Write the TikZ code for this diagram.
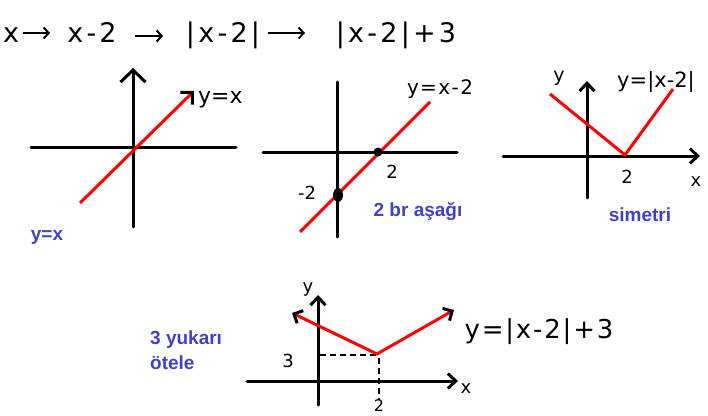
\documentclass[tikz,border=0pt]{standalone}
\usepackage{fontspec}
\setmainfont{DejaVu Sans}
\newfontfamily\handwide[LetterSpace=12]{DejaVu Sans}
\newfontfamily\handmid[LetterSpace=7]{DejaVu Sans}
\newfontfamily\bluefont{Liberation Sans}
\usetikzlibrary{arrows.meta}
\definecolor{myblue}{RGB}{64,64,205}
\definecolor{myred}{RGB}{255,0,0}
\begin{document}
\begin{tikzpicture}[x=1pt,y=-1pt,
  axis/.style={line width=3pt,black,line cap=round},
  graph/.style={line width=3pt,myred},
  dashln/.style={line width=1.2pt,black,dash pattern=on 6pt off 4pt},
  hand/.style={font=\fontsize{#1}{#1}\selectfont,inner sep=0pt},
  handw/.style={font=\handwide\fontsize{#1}{#1}\selectfont,inner sep=0pt},
  handm/.style={font=\handmid\fontsize{#1}{#1}\selectfont,inner sep=0pt},
  bluelbl/.style={text=myblue,font=\bluefont\bfseries\fontsize{19}{22}\selectfont,inner sep=0pt},
  toparr/.style={line width=2pt,-{Straight Barb[length=5pt,width=11pt]}},
  bigbarb/.style={-{Straight Barb[length=12pt,width=25pt]}},
  smallbarb/.style={-{Straight Barb[length=8pt,width=15pt]}},
  hookend/.style={-{Straight Barb[color=black,length=8.5pt,width=17pt]}}
]
\useasboundingbox (0,0) rectangle (708,415);

% ---------- top row ----------
\node[handw=27,anchor=base] (t1) at (11,42) {x};
\node[handw=27,anchor=base] (t2) at (92,42) {x-2};
\node[handw=27,anchor=base] (t3) at (223,42) {|x-2|};
\node[handw=27,anchor=base] (t4) at (396,42) {|x-2|+3};
\coordinate (a1s) at (23,33);  \coordinate (a1e) at (50,33);
\coordinate (a2s) at (135,36); \coordinate (a2e) at (163,36);
\coordinate (a3s) at (268,33); \coordinate (a3e) at (305,33);
\draw[toparr] (a1s) -- (a1e);
\draw[toparr] (a2s) -- (a2e);
\draw[toparr] (a3s) -- (a3e);

% ---------- panel 1 : y = x ----------
\draw[axis,bigbarb] (133,227) -- (133,68);
\draw[axis] (31,147) -- (236,147);
\draw[graph,hookend] (80,203) -- (194,91);
\node[hand=22,anchor=base west] (l1) at (198,103) {y=x};
\node[bluelbl] (b1) at (47,237) {y=x};

% ---------- panel 2 : y = x-2 ----------
\draw[axis] (337,82) -- (337,237);
\draw[axis] (263,152) -- (457,152);
\draw[graph] (300,232) -- (430,102);
\fill (378,152) circle [radius=4.5pt];
\fill (338,195) ellipse [x radius=5pt, y radius=7pt];
\node[handm=20,anchor=base] (l2) at (440,94) {y=x-2};
\node[hand=18] (l2a) at (392,172) {2};
\node[hand=18] (l2b) at (307,193) {-2};
\node[bluelbl] (b2) at (418,212) {2 br aşağı};

% ---------- panel 3 : y = |x-2| ----------
\draw[axis,smallbarb] (587,198) -- (587,81);
\draw[axis,smallbarb] (503,156) -- (700,156);
\draw[graph,line join=round] (550,94) -- (625,155) -- (673,89);
\node[hand=19] (l3y) at (559,78) {y};
\node[hand=21,anchor=base] (l3) at (656,87) {y=|x-2|};
\node[hand=18] (l3a) at (627,177) {2};
\node[hand=18] (l3x) at (696,182) {x};
\node[bluelbl] (b3) at (640,215) {simetri};

% ---------- panel 4 : y = |x-2|+3 ----------
\draw[axis,smallbarb] (318,405) -- (318,295);
\draw[axis,smallbarb] (247,381) -- (458,381);
\draw[dashln] (320,355) -- (377,355);
\draw[dashln] (379,358) -- (379,400);
\draw[graph,line join=round,
  {Straight Barb[color=black,length=7pt,width=14pt]}-{Straight Barb[color=black,length=7pt,width=14pt]}]
  (292,313) -- (377,354) -- (454,310);
\node[hand=18] (l4y) at (308,289) {y};
\node[hand=18] (l43) at (288,361) {3};
\node[hand=18] (l4x) at (466,389) {x};
\node[hand=16] (l42) at (379,406) {2};
\node[handm=26,anchor=base] (l4) at (539,338) {y=|x-2|+3};
\node[bluelbl,anchor=base west] (b4a) at (150,344) {3 yukarı};
\node[bluelbl,anchor=base west] (b4b) at (150,369) {ötele};
\end{tikzpicture}
\end{document}
